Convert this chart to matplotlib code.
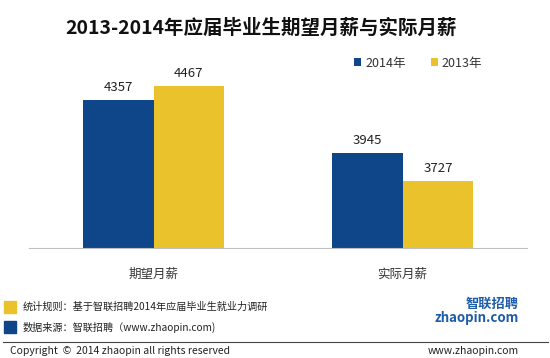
import matplotlib.pyplot as plt
import numpy as np

plt.rcParams['font.family'] = ['Noto Sans CJK SC', 'DejaVu Sans']

# 数据
categories = ['期望月薪', '实际月薪']
series_names = ['2014年', '2013年']
salary_2014 = [4357, 3945]
salary_2013 = [4467, 3727]

blue = '#0F4589'
yellow = '#E9C22C'

fig = plt.figure(figsize=(5.5, 3.58), dpi=100)
ax = fig.add_axes([29 / 550, 110 / 358, 498 / 550, 178.5 / 358])

x = np.arange(len(categories))
w = 0.285
b1 = ax.bar(x - w / 2, salary_2014, w, color=blue, label=series_names[0])
b2 = ax.bar(x + w / 2, salary_2013, w, color=yellow, label=series_names[1])

ax.set_ylim(3200, 4600)
ax.set_xlim(-0.5, 1.5)

for bars in (b1, b2):
    for r in bars:
        ax.annotate(f'{int(r.get_height())}', (r.get_x() + r.get_width() / 2, r.get_height()),
                    xytext=(0, 4.5), textcoords='offset points', ha='center', va='bottom',
                    fontsize=9.5, color='#222222')

for s in ['top', 'right', 'left']:
    ax.spines[s].set_visible(False)
ax.spines['bottom'].set_color('#BFBFBF')
ax.set_yticks([])
ax.set_xticks(x)
ax.set_xticklabels(categories, fontsize=9, color='#333333')
ax.tick_params(axis='x', length=0, pad=14)

leg = fig.legend(handles=[b1, b2], loc='center', bbox_to_anchor=(418 / 550, 1 - 63 / 358),
                 ncol=2, frameon=False, fontsize=9, handlelength=0.6, handleheight=0.6,
                 handletextpad=0.3, columnspacing=2.0, labelcolor='#333333')

fig.text(261 / 550, 1 - 28 / 358, '2013-2014年应届毕业生期望月薪与实际月薪',
         ha='center', va='center', fontsize=14, fontweight='bold', color='#111111')

# 页脚
fig.patches.append(plt.Rectangle((4 / 550, 1 - 313 / 358), 12 / 550, 12 / 358,
                                 transform=fig.transFigure, color=yellow))
fig.patches.append(plt.Rectangle((4 / 550, 1 - 333 / 358), 12 / 550, 12 / 358,
                                 transform=fig.transFigure, color=blue))
fig.text(23 / 550, 1 - 307 / 358, '统计规则：基于智联招聘2014年应届毕业生就业力调研',
         va='center', fontsize=7.3, color='#222222')
fig.text(23 / 550, 1 - 327 / 358, '数据来源：智联招聘（www.zhaopin.com)',
         va='center', fontsize=7.3, color='#222222')
fig.lines.append(plt.Line2D([3 / 550, 548 / 550], [1 - 342 / 358] * 2,
                            transform=fig.transFigure, color='#444444', lw=0.8))
fig.text(10 / 550, 1 - 351 / 358, 'Copyright  ©  2014 zhaopin all rights reserved',
         va='center', fontsize=7.5, color='#222222')
fig.text(519 / 550, 1 - 351 / 358, 'www.zhaopin.com',
         va='center', ha='right', fontsize=7.5, color='#222222')

# logo
fig.text(519 / 550, 1 - 304 / 358, '智联招聘', ha='right', va='center',
         fontsize=9.5, fontweight='bold', color='#1E5BA8', style='italic')
fig.text(519 / 550, 1 - 318 / 358, 'zhaopin.com', ha='right', va='center',
         fontsize=9.5, fontweight='bold', color='#1E5BA8')

fig.savefig('out.png', dpi=100, facecolor='white')
